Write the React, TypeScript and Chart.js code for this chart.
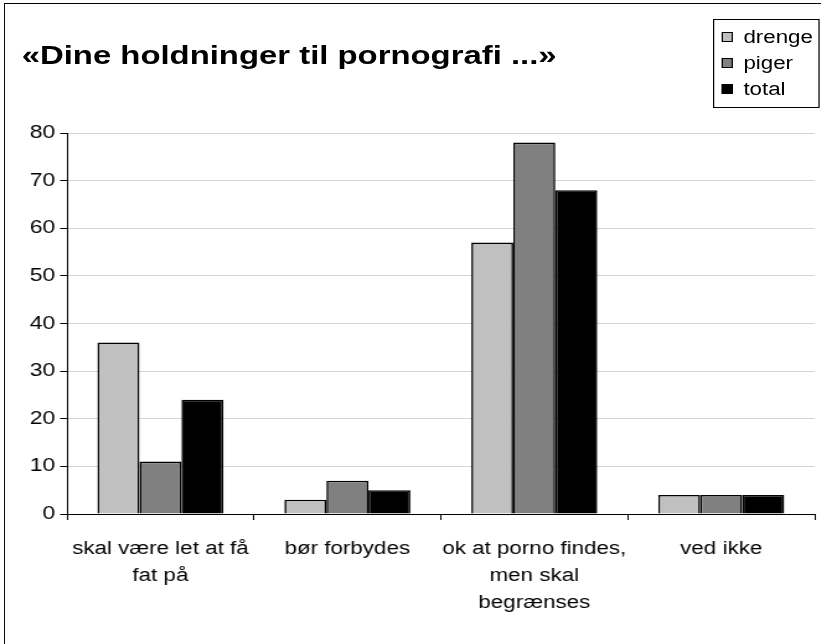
import React, { useEffect, useRef } from "react";
import { Chart, registerables } from "chart.js";

Chart.register(...registerables);

const TITLE = "«Dine holdninger til pornografi ...»";
const categories: string[][] = [
  ["skal være let at få", "fat på"],
  ["bør forbydes"],
  ["ok at porno findes,", "men skal", "begrænses"],
  ["ved ikke"],
];
const seriesNames = ["drenge", "piger", "total"];
const drenge = [36, 3, 57, 4];
const piger = [11, 7, 78, 4];
const total = [24, 5, 68, 4];
const yMin = 0;
const yMax = 80;
const yStep = 10;
const seriesColors = ["#c0c0c0", "#808080", "#000000"];

const FONT = "'Liberation Sans', Arial, Helvetica, sans-serif";
const STRETCH = 1.24;
const W = 662;
const H = 644;

export default function App() {
  const ref = useRef<HTMLCanvasElement | null>(null);

  useEffect(() => {
    if (!ref.current) return;
    const values = [drenge, piger, total];
    const chart = new Chart(ref.current, {
      type: "bar",
      data: {
        labels: categories,
        datasets: seriesNames.map((name, i) => ({
          label: name,
          data: values[i],
          backgroundColor: seriesColors[i],
          borderColor: "#000000",
          borderWidth: 1.6,
          barPercentage: 1,
          categoryPercentage: 0.674,
        })),
      },
      options: {
        responsive: false,
        animation: false,
        layout: { padding: { left: 0, top: 133, right: 5, bottom: 0 } },
        plugins: {
          legend: { display: false },
          title: { display: false },
          tooltip: { enabled: false },
        },
        scales: {
          x: {
            offset: true,
            grid: {
              display: true,
              offset: true,
              drawOnChartArea: false,
              drawTicks: true,
              tickLength: 6,
              tickColor: "#000000",
            },
            border: { display: true, color: "#000000", width: 1 },
            ticks: {
              color: "#000000",
              font: { family: FONT, size: 18, lineHeight: 1.5 },
              padding: 16,
              maxRotation: 0,
              autoSkip: false,
            },
            afterFit: (s: any) => {
              s.height = 130;
            },
          },
          y: {
            min: yMin,
            max: yMax,
            ticks: {
              stepSize: yStep,
              color: "#000000",
              font: { family: FONT, size: 18.5 },
              padding: 4,
            },
            grid: {
              color: "#d4d4d4",
              tickColor: "#000000",
              tickLength: 5.5,
              drawTicks: true,
            },
            border: { display: true, color: "#000000", width: 1 },
            afterFit: (s: any) => {
              s.width = 54;
            },
          },
        },
      },
    });
    return () => chart.destroy();
  }, []);

  const legendTop = 19;
  const rowCenters = [37, 63, 89];

  return (
    <div
      style={{
        position: "fixed",
        left: 0,
        top: 0,
        width: W,
        height: H,
        transform: `scaleX(${STRETCH})`,
        transformOrigin: "0 0",
        background: "#ffffff",
        fontFamily: FONT,
        overflow: "hidden",
      }}
    >
      <canvas
        ref={ref}
        width={W}
        height={H}
        style={{ position: "absolute", left: 0, top: 0, width: W, height: H, display: "block" }}
      />
      <div
        style={{
          position: "absolute",
          left: 3,
          top: 3,
          width: W,
          height: H,
          borderLeft: "1.3px solid #000",
          borderTop: "1.5px solid #000",
          boxSizing: "border-box",
          pointerEvents: "none",
        }}
      />
      <div
        style={{
          position: "absolute",
          left: 17.5,
          top: 41.5,
          fontWeight: "bold",
          fontSize: 26.5,
          lineHeight: 1,
          whiteSpace: "nowrap",
          color: "#000",
        }}
      >
        {TITLE}
      </div>
      <div
        style={{
          position: "absolute",
          left: 575,
          top: legendTop,
          width: 86,
          height: 89,
          border: "1px solid #000",
          boxSizing: "border-box",
          background: "#fff",
        }}
      >
        {seriesNames.map((name, i) => (
          <div
            key={name}
            style={{
              position: "absolute",
              left: 6,
              top: rowCenters[i] - legendTop - 1 - 10,
              height: 20,
              display: "flex",
              alignItems: "center",
              whiteSpace: "nowrap",
            }}
          >
            <span
              style={{
                display: "inline-block",
                flex: "0 0 auto",
                width: 8.5,
                height: 10,
                background: seriesColors[i],
                border: "1px solid #000",
                boxSizing: "border-box",
                marginRight: 9,
              }}
            />
            <span style={{ fontSize: 18, lineHeight: "20px", color: "#000" }}>{name}</span>
          </div>
        ))}
      </div>
    </div>
  );
}
